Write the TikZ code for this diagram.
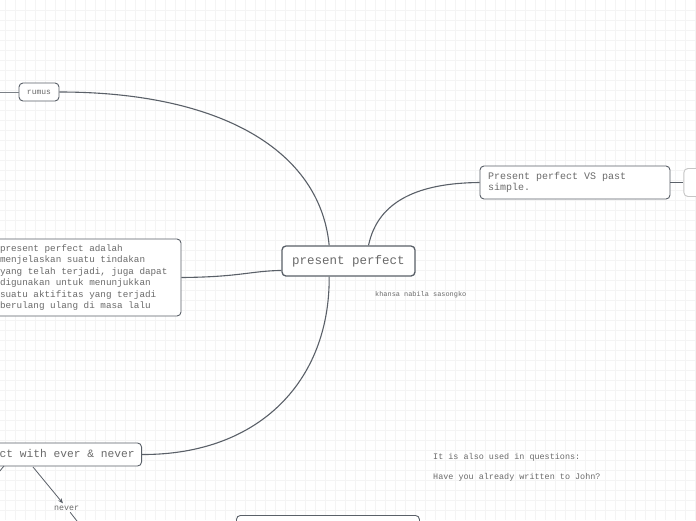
\documentclass[tikz,border=0pt]{standalone}
\usepackage{fontspec}
\setmonofont{Liberation Mono}
\usetikzlibrary{positioning, arrows.meta}
\definecolor{edgegray}{HTML}{5A6068}
\definecolor{inkgray}{HTML}{6A6A6A}
\definecolor{gridgray}{HTML}{F4F4F4}

\begin{document}
\begin{tikzpicture}[x=1pt, y=-1pt]
    \tikzset{
        topic/.style={rectangle, rounded corners=4pt, draw=edgegray, line width=1.3pt,
                      fill=white, text=inkgray, inner sep=0pt,
                      font=\ttfamily\fontsize{12.5}{14}\selectfont},
        subtopic/.style={rectangle, rounded corners=4pt, draw=edgegray, line width=0.9pt,
                         fill=white, text=inkgray, inner sep=0pt},
        branch/.style={draw=edgegray, line width=1.1pt},
        arrowline/.style={draw=edgegray, line width=0.8pt, -{Stealth[length=5pt, width=4pt]}},
        note/.style={text=inkgray, inner sep=0pt, anchor=base west}
    }
    \clip (0,0) rectangle (696,520);
    \fill[white] (0,0) rectangle (696,520);
    % grid
    \foreach \gx in {5,15,...,695}
        \draw[gridgray, line width=0.6pt] (\gx,0) -- (\gx,520);
    \foreach \gy in {10,20,...,510}
        \draw[gridgray, line width=0.6pt] (0,\gy) -- (696,\gy);

    \coordinate (rumusback) at (-10,92);
    \coordinate (evertail) at (33,467);
    \coordinate (everlow) at (4,466);
    \coordinate (everout) at (-6,478);
    \coordinate (neverout) at (84,530);

    \node[topic, minimum width=133pt, minimum height=30pt] (pp) at (348.5,261) {present perfect};
    \node[subtopic, minimum width=40pt, minimum height=18pt,
          font=\ttfamily\fontsize{8}{9}\selectfont] (rumus) at (39,92) {rumus};
    \node[subtopic, minimum width=190pt, minimum height=33pt, text width=174pt, align=flush left,
          font=\ttfamily\fontsize{10}{10.5}\selectfont] (vs) at (575,182.5)
          {Present perfect VS past\\simple.};
    \node[subtopic, draw=gray!45, minimum width=40pt, minimum height=28pt,
          right=13pt of vs] (vsnext) {};
    \node[subtopic, minimum width=187pt, minimum height=77pt, text width=175pt, align=flush left,
          font=\ttfamily\fontsize{9.3}{11.4}\selectfont] (def) at (87.5,277.5)
          {present perfect adalah\\menjelaskan suatu tindakan\\yang telah terjadi, juga dapat\\digunakan untuk menunjukkan\\suatu aktifitas yang terjadi\\berulang ulang di masa lalu};
    \node[subtopic, anchor=east, minimum height=23pt, inner xsep=7pt,
          font=\ttfamily\fontsize{11.25}{13}\selectfont] (ever) at (142,454.5)
          {present perfect with ever \& never};
    \node[note, inner sep=2pt, font=\ttfamily\fontsize{8.3}{9}\selectfont] (never) at (52,510) {never};
    \node[subtopic, anchor=north west, minimum width=183pt, minimum height=40pt] (simple) at (236,515) {};

    \node[note, font=\ttfamily\fontsize{6.9}{8}\selectfont] (author) at (375,296) {khansa nabila sasongko};
    \node[note, font=\ttfamily\fontsize{8.45}{10}\selectfont] (question) at (433,459) {It is also used in questions:};
    \node[note, font=\ttfamily\fontsize{8.45}{10}\selectfont] (example) at (433,479) {Have you already written to John?};

    % connectors
    \draw[edgegray!80, line width=0.7pt] (rumusback) -- (rumus.west);
    \draw[branch] (rumus.east) .. controls (220,92) and (320,150) .. (pp.141);
    \draw[branch] (pp.38) .. controls (378,200) and (420,183) .. (vs.west);
    \draw[branch] (vs) -- (vsnext);
    \draw[branch] (def.east) .. controls (240,277) and (250,271) .. (pp.188);
    \draw[branch] (ever.east) .. controls (260,455) and (330,380) .. (pp.-141);
    \draw[arrowline] (evertail) -- (never);
    \draw[edgegray, line width=0.8pt] (everlow) -- (everout);
    \draw[arrowline] (never) -- (neverout);
\end{tikzpicture}
\end{document}
